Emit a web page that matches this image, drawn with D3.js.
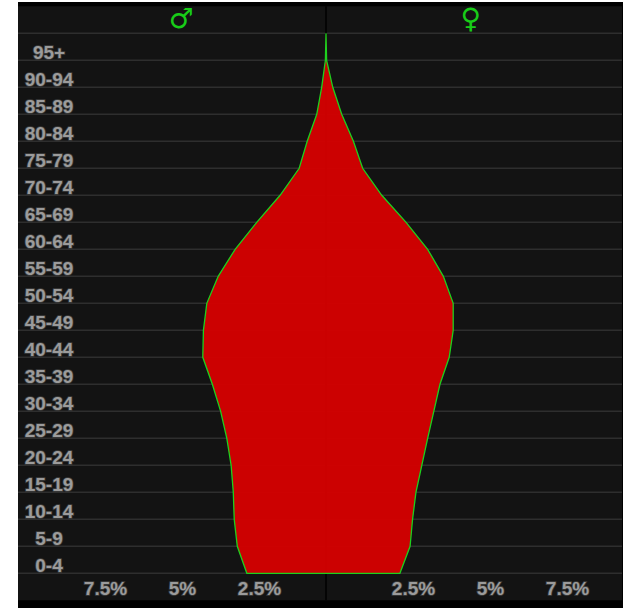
<!DOCTYPE html>
<html>
<head>
<meta charset="utf-8">
<script src="https://cdn.jsdelivr.net/npm/d3@7"></script>
<style>
  body { margin: 0; background: #fff; }
  .age-label, .axis text {
    font-family: "Liberation Sans", Arial, sans-serif;
    font-weight: bold;
    font-size: 19px;
    fill: #9b9b9b;
    stroke: #3c3c3c;
    stroke-width: 1.6px;
    paint-order: stroke;
  }
  .sex {
    font-family: "DejaVu Sans", sans-serif;
    font-size: 28px;
    fill: #18cc18;
  }
</style>
</head>
<body>
<div id="d3-container"></div>
<script>
/**
 * CONSTANTS AND GLOBALS
 * */
const width = 623,
  height = 608,
  panel = { left: 18, right: 622, top: 6.3, bottom: 600.3 },
  rowH = 27;

// age groups from youngest to oldest, values in % of population
const ageGroups = ["0-4", "5-9", "10-14", "15-19", "20-24", "25-29", "30-34", "35-39", "40-44", "45-49",
  "50-54", "55-59", "60-64", "65-69", "70-74", "75-79", "80-84", "85-89", "90-94", "95+"];
const male = [2.57, 2.88, 2.98, 3.01, 3.08, 3.22, 3.42, 3.69, 4.00, 3.98,
  3.87, 3.50, 2.95, 2.25, 1.49, 0.87, 0.61, 0.30, 0.14, 0.02];
const female = [2.40, 2.73, 2.81, 2.92, 3.11, 3.30, 3.50, 3.70, 4.00, 4.13,
  4.13, 3.81, 3.30, 2.60, 1.81, 1.19, 0.89, 0.51, 0.22, 0.02];
const xTicks = [-7.5, -5, -2.5, 2.5, 5, 7.5];
const sexLabels = [{ sym: "\u2642", pos: -4.7 }, { sym: "\u2640", pos: 4.7 }];

/**
 * SCALES
 * */
// 0 sits on the centre line, 77px for every 2.5%
const xScale = d3.scaleLinear().domain([-10, 10]).range([326 - 308, 326 + 308]);
// each point lies on the bottom edge of its row; index 20 is the top closing point
const yScale = d3.scaleLinear()
  .domain([0, ageGroups.length])
  .range([panel.bottom - rowH, panel.bottom - rowH * (ageGroups.length + 1)]);

const svg = d3.select("#d3-container")
  .append("svg")
  .attr("width", width)
  .attr("height", height);

// background box
svg.append("rect")
  .attr("x", panel.left).attr("y", 2)
  .attr("width", width - panel.left).attr("height", height - 2)
  .attr("fill", "#000");
svg.append("rect")
  .attr("x", panel.left).attr("y", panel.top)
  .attr("width", panel.right - panel.left).attr("height", panel.bottom - panel.top)
  .attr("fill", "#131313");

// horizontal grid lines on row edges
svg.append("g")
  .selectAll("line")
  .data(d3.range(ageGroups.length + 1))
  .join("line")
  .attr("x1", panel.left)
  .attr("x2", panel.right)
  .attr("y1", d => yScale(d))
  .attr("y2", d => yScale(d))
  .attr("stroke", "#2e2e2e")
  .attr("stroke-width", 1.6);

// centre line (under the shape, shows faintly through it)
svg.append("line")
  .attr("x1", xScale(0)).attr("x2", xScale(0))
  .attr("y1", panel.top).attr("y2", panel.bottom)
  .attr("stroke", "#000")
  .attr("stroke-width", 1.5);

/**
 * PYRAMID SHAPE
 * */
const points = [];
female.forEach((v, i) => points.push([v, i]));
points.push([0, ageGroups.length]);
for (let i = male.length - 1; i >= 0; i--) points.push([-male[i], i]);

const line = d3.line()
  .x(d => xScale(d[0]))
  .y(d => yScale(d[1]));

svg.append("path")
  .attr("d", line(points) + "Z")
  .attr("fill", "#d60000")
  .attr("fill-opacity", 0.95)
  .attr("stroke", "#1ed01e")
  .attr("stroke-width", 1.3);

/**
 * LABELS
 * */
svg.append("g")
  .selectAll("text")
  .data(ageGroups)
  .join("text")
  .attr("class", "age-label")
  .attr("x", 49)
  .attr("y", (d, i) => yScale(i) - 1)
  .attr("text-anchor", "middle")
  .text(d => d);

const xAxis = d3.axisBottom(xScale)
  .tickValues(xTicks)
  .tickSize(0)
  .tickFormat(d => Math.abs(d) + "%");

svg.append("g")
  .attr("class", "axis")
  .attr("transform", `translate(0,${yScale(0)})`)
  .call(xAxis)
  .call(g => g.select(".domain").remove())
  .selectAll("text")
  .attr("dx", 10)
  .attr("dy", 0)
  .attr("y", 22);

svg.append("g")
  .selectAll("text")
  .data(sexLabels)
  .join("text")
  .attr("class", "sex")
  .attr("x", d => xScale(d.pos))
  .attr("y", 28)
  .attr("text-anchor", "middle")
  .text(d => d.sym);
</script>
</body>
</html>
